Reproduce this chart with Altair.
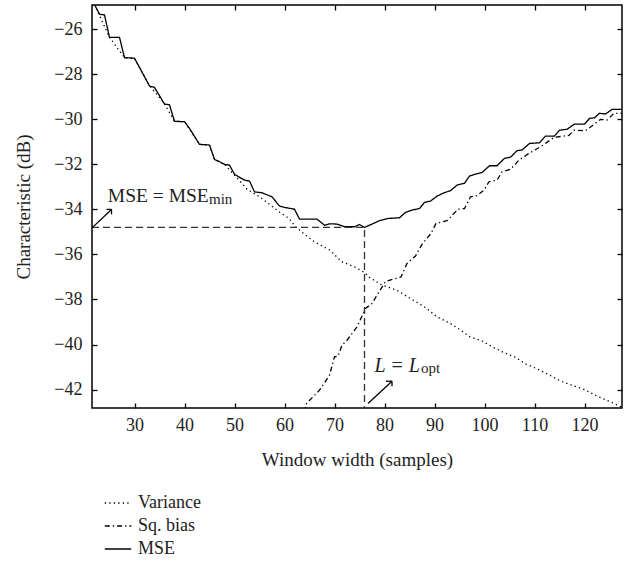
import altair as alt
import pandas as pd

# ---- data ----
mse_x = [21.5, 22, 23, 24, 25, 27, 28, 30, 33, 34, 36, 37, 38, 40, 41, 43, 45, 46, 47, 48, 49, 50,
         52, 53, 54, 55.5, 56.7, 57.5, 59, 60, 62, 63, 66.5, 68, 69, 70.5, 72, 74, 75, 76, 77.5, 79,
         80.7, 83, 84.2, 85.5, 87, 88, 89.2, 90.5, 92, 93.2, 94.5, 96, 97, 98.2, 99.5, 101, 102.5,
         104, 105.2, 106.5, 107.5, 109, 111, 112.2, 114, 115, 116.5, 118, 120, 121, 122, 123, 124.2,
         125.5, 127.5]
mse_y = [-24.7, -24.9, -25.33, -25.36, -26.36, -26.36, -27.26, -27.28, -28.52, -28.58, -29.32,
         -29.35, -30.09, -30.10, -30.40, -31.11, -31.14, -31.78, -31.88, -32.00, -32.03, -32.44,
         -32.70, -32.74, -33.22, -33.26, -33.37, -33.44, -33.85, -33.91, -33.99, -34.43, -34.43,
         -34.70, -34.64, -34.65, -34.77, -34.77, -34.67, -34.80, -34.65, -34.50, -34.40, -34.37,
         -34.13, -34.03, -33.96, -33.69, -33.63, -33.41, -33.25, -33.17, -32.92, -32.84, -32.52,
         -32.43, -32.36, -32.06, -32.06, -31.73, -31.68, -31.39, -31.36, -31.07, -31.04, -30.74,
         -30.74, -30.48, -30.44, -30.21, -30.21, -29.96, -29.93, -29.73, -29.76, -29.56, -29.56]

var_x = [22, 25, 28, 30, 33, 36, 38, 40, 43, 45, 46, 48, 50.5, 52.5, 55.2, 57.2, 59.2, 60.9, 62.2,
         64, 66, 69, 71.5, 74, 76, 77, 79.5, 82.5, 85.2, 88, 90.5, 93.2, 95.2, 97.1, 99.5, 101.5,
         103.7, 106, 108.3, 110.7, 113, 115.2, 117.5, 120, 122.4, 124.5, 127, 127.5]
var_y = [-24.9, -26.36, -27.26, -27.3, -28.5, -29.3, -30.09, -30.1, -31.11, -31.14, -31.78, -32.0,
         -32.6, -33.1, -33.47, -33.81, -34.15, -34.4, -34.77, -35.1, -35.44, -35.8, -36.33, -36.55,
         -36.8, -37.02, -37.36, -37.59, -37.96, -38.33, -38.77, -39.07, -39.36, -39.66, -39.84,
         -40.1, -40.34, -40.55, -40.87, -41.1, -41.36, -41.62, -41.81, -42.0, -42.28, -42.48,
         -42.73, -42.8]

bias_x = [64, 64.4, 67, 69, 70, 70.7, 71.5, 72.5, 74.5, 76.2, 77.5, 78.9, 80.2, 83.3, 84.5, 86.2,
          87.5, 89.3, 90.3, 92.5, 94.7, 96, 97.2, 98.5, 99.9, 100.9, 102.5, 103.5, 105.2, 106.9,
          108.9, 111.2, 113.9, 116.9, 117.9, 120.2, 121.9, 123.2, 124.5, 125.9, 127.5]
bias_y = [-43.0, -42.62, -42.03, -41.36, -40.55, -40.52, -40.03, -39.81, -39.22, -38.40, -38.18,
          -37.66, -37.2, -37.0, -36.4, -36.07, -35.55, -35.07, -34.62, -34.50, -33.99, -33.96,
          -33.44, -33.39, -33.14, -32.77, -32.70, -32.33, -32.22, -31.81, -31.51, -31.22, -30.80,
          -30.71, -30.48, -30.51, -30.22, -30.00, -30.03, -29.73, -29.73]

series_names = ["Variance", "Sq. bias", "MSE"]
x_ticks = [30, 40, 50, 60, 70, 80, 90, 100, 110, 120]
y_ticks = [-42, -40, -38, -36, -34, -32, -30, -28, -26]
x_domain = [21.5, 127.5]
y_domain = [-42.82, -24.92]

# optimum point and annotation geometry (data units)
L_opt = 76
mse_min = -34.8
guide_x = [21.5, L_opt, L_opt]
guide_y = [mse_min, mse_min, y_domain[0]]

# arrows: shaft + two head strokes (start -> end)
seg_x = [21.5, 25.4, 25.4, 76.7, 81.5, 81.5]
seg_y = [-34.82, -34.0, -34.0, -42.62, -41.63, -41.63]
seg_x2 = [25.4, 24.4, 25.4, 81.5, 80.3, 81.5]
seg_y2 = [-34.0, -34.0, -34.22, -41.63, -41.63, -41.85]

FONT = "Liberation Serif"
TXT = "#222222"

rows = []
for n, xs_, ys_ in [("Variance", var_x, var_y), ("Sq. bias", bias_x, bias_y), ("MSE", mse_x, mse_y)]:
    for i, (a, b) in enumerate(zip(xs_, ys_)):
        rows.append({"series": n, "x": a, "y": b, "i": i})
df = pd.DataFrame(rows)

xs = alt.Scale(domain=x_domain, nice=False, zero=False)
ys = alt.Scale(domain=y_domain, nice=False, zero=False)

lines = alt.Chart(df).mark_line(color="black", strokeWidth=1.3, clip=True).encode(
    x=alt.X("x:Q", scale=xs, title="Window width (samples)",
            axis=alt.Axis(values=x_ticks, orient="bottom", offset=-5, tickSize=5, domain=False,
                          grid=False, labelPadding=8, titlePadding=16)),
    y=alt.Y("y:Q", scale=ys, title="Characteristic (dB)",
            axis=alt.Axis(values=y_ticks, orient="left", offset=-5, tickSize=5, domain=False,
                          grid=False, labelPadding=10, titlePadding=20)),
    order="i:Q",
    strokeDash=alt.StrokeDash(
        "series:N",
        scale=alt.Scale(domain=series_names, range=[[1.3, 3.2], [5, 3, 1.3, 3], [1, 0]]),
        legend=alt.Legend(title=None, orient="none", legendX=12, legendY=484,
                          symbolType="stroke", symbolSize=700, symbolStrokeWidth=1.3,
                          symbolStrokeColor="black", labelFont=FONT, labelFontSize=18,
                          labelColor=TXT, labelOffset=6, rowPadding=0, padding=0)),
)

gdf = pd.DataFrame({"x": guide_x, "y": guide_y, "i": [0, 1, 2]})
guide = alt.Chart(gdf).mark_line(color="#333333", strokeWidth=1.3, strokeDash=[7, 4]).encode(
    x=alt.X("x:Q", scale=xs,
            axis=alt.Axis(values=x_ticks, orient="top", offset=-5, tickSize=5, domain=False,
                          labels=False, title=None, grid=False)),
    y=alt.Y("y:Q", scale=ys,
            axis=alt.Axis(values=y_ticks, orient="right", offset=-5, tickSize=5, domain=False,
                          labels=False, title=None, grid=False)),
    order="i:Q",
)

adf = pd.DataFrame({"x": seg_x, "y": seg_y, "x2": seg_x2, "y2": seg_y2})
arrows = alt.Chart(adf).mark_rule(color="black", strokeWidth=1.3).encode(
    x=alt.X("x:Q", scale=xs, axis=None), y=alt.Y("y:Q", scale=ys, axis=None),
    x2="x2:Q", y2="y2:Q")


def label(x, y, t, size, style="normal"):
    d = pd.DataFrame({"x": [x], "y": [y], "t": [t]})
    return alt.Chart(d).mark_text(font=FONT, fontSize=size, fontStyle=style, color=TXT,
                                  align="left", baseline="alphabetic").encode(
        x=alt.X("x:Q", scale=xs, axis=None), y=alt.Y("y:Q", scale=ys, axis=None), text="t:N")


t1 = label(24.66, -33.66, "MSE = MSE", 19.5)
t1s = label(44.9, -33.74, "min", 15)
t2 = label(78.0, -41.22, "L = L", 20, "italic")
t2s = label(87.3, -41.28, "opt", 15)

chart = alt.layer(lines, guide, arrows, t1, t1s, t2, t2s).resolve_axis(
    x="independent", y="independent"
).properties(
    width=530, height=403,
    padding={"left": 92, "top": 5, "right": 9, "bottom": 159},
    autosize=alt.AutoSizeParams(type="none"),
).configure_view(
    stroke="black", strokeWidth=1.5
).configure_axis(
    labelFont=FONT, labelFontSize=18, labelColor=TXT, titleFont=FONT, titleFontSize=19,
    titleFontWeight="normal", titleColor=TXT, tickColor="black", tickWidth=1.3,
)

chart.save("out.html", embed_options={"renderer": "svg", "actions": False})
